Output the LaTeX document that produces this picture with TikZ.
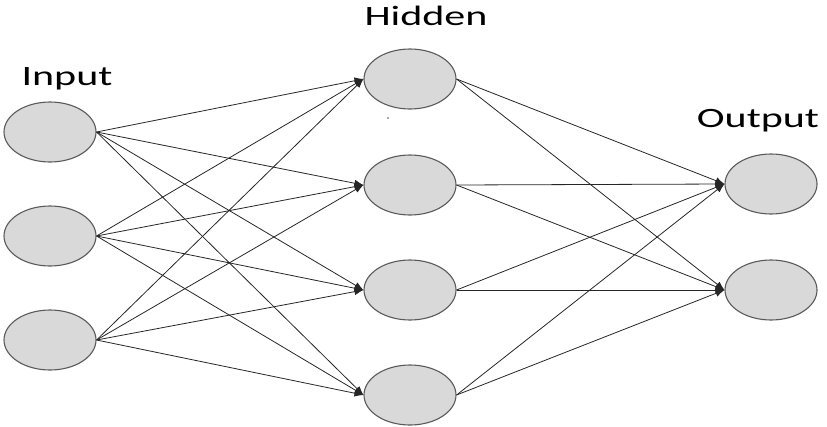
\documentclass[tikz,border=0pt]{standalone}
\usepackage{fontspec}
\setmainfont{Carlito}
\usetikzlibrary{shapes.geometric,arrows.meta}
\begin{document}
\begin{tikzpicture}[x=1pt,y=-1pt,
  neuron/.style={ellipse,draw=black!65,line width=1.1pt,fill=black!15,minimum width=92pt,minimum height=60pt,inner sep=0pt},
  conn/.style={draw=black!85,line width=0.8pt,-{Latex[length=9pt,width=7pt]}},
  lbl/.style={font=\fontsize{28}{30}\selectfont,inner sep=0pt}]
\useasboundingbox (0,0) rectangle (827,426);
\node[neuron] (i1) at (50,132) {};
\node[neuron] (i2) at (50,236) {};
\node[neuron] (i3) at (50,340) {};
\node[neuron] (h1) at (410,79) {};
\node[neuron] (h2) at (410,185) {};
\node[neuron] (h3) at (410,290) {};
\node[neuron] (h4) at (410,395) {};
\node[neuron] (o1) at (771,184) {};
\node[neuron] (o2) at (771,290) {};
\node[lbl,anchor=base] (tin) at (67,85) {\scalebox{1.5}[1]{Input}};
\node[lbl,anchor=base] (thid) at (426,25) {\scalebox{1.5}[1]{Hidden}};
\node[lbl,anchor=base] (tout) at (758,127) {\scalebox{1.5}[1]{Output}};
\foreach \i in {1,2,3}{
  \foreach \h in {1,2,3,4}{
    \draw[conn] (i\i.east) -- (h\h.west);
  }
}
\foreach \h in {1,2,3,4}{
  \foreach \o in {1,2}{
    \draw[conn] (h\h.east) -- (o\o.west);
  }
}
\fill[black!70] (388,118) circle (0.8pt);
\end{tikzpicture}
\end{document}
